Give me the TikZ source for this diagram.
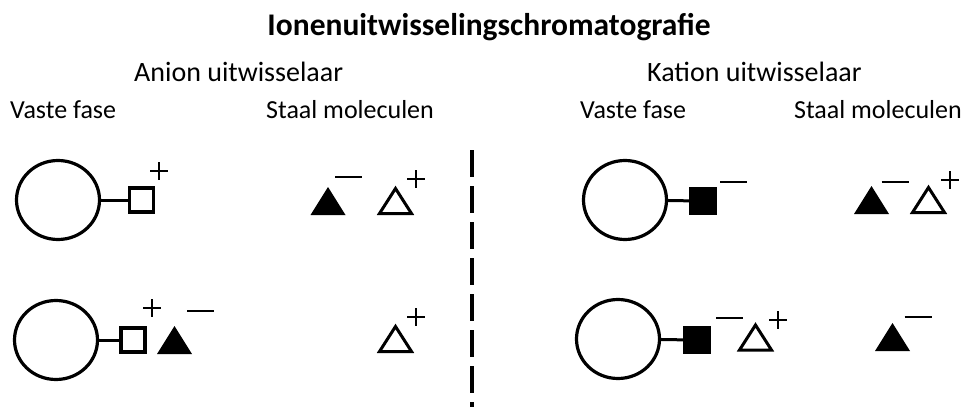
\documentclass[tikz,border=0pt]{standalone}
\usepackage{fontspec}
\setmainfont{Carlito}
\usetikzlibrary{shapes.geometric}

\tikzset{
  ring/.style={draw, ellipse, minimum width=83pt, minimum height=79pt, line width=3.2pt, inner sep=0pt},
  box/.style={draw, minimum width=24pt, minimum height=24pt, line width=3.2pt, inner sep=0pt},
  fbox/.style={box, fill=black},
  link/.style={line width=3pt},
  label/.style={inner sep=0pt, font=\fontsize{26}{30}\selectfont},
  sublabel/.style={inner sep=0pt, font=\fontsize{28}{32}\selectfont},
  heading/.style={inner sep=0pt, font=\fontsize{31.5}{36}\selectfont\bfseries},
  charge/.style={line width=2.8pt},
  plus/.pic={\draw[charge] (-9,0) -- (9,0) (0,-9) -- (0,9);},
  minus/.pic={\draw[charge] (-13.5,0) -- (13.5,0);},
  ftri/.pic={\fill (-17.5,14) -- (17.5,14) -- (0,-14) -- cycle;},
  otri/.pic={\draw[line width=3pt, line join=miter] (-16,12.5) -- (16,12.5) -- (0,-12.5) -- cycle;},
  divider/.style={line width=3.5pt, dash pattern=on 27pt off 9pt}
}

\begin{document}
\begin{tikzpicture}[x=1pt, y=-1pt]
  \useasboundingbox (0,0) rectangle (970,407);

  % headings
  \node[heading, anchor=base] (title) at (489,35) {Ionenuitwisselingschromatografie};
  \node[sublabel, anchor=base west] (anion) at (134,81) {Anion uitwisselaar};
  \node[sublabel, anchor=base west] (kation) at (647,81) {Kation uitwisselaar};
  \node[label, anchor=base west] (vfA) at (10,118) {Vaste fase};
  \node[label, anchor=base west] (smA) at (266,118) {Staal moleculen};
  \node[label, anchor=base west] (vfK) at (580,118) {Vaste fase};
  \node[label, anchor=base east] (smK) at (962,118) {Staal moleculen};

  % separator between the two exchangers
  \coordinate (divtop) at (472,150);
  \coordinate (divbot) at (472,407);
  \draw[divider] (divtop) -- (divbot);

  % anion exchanger, free resin
  \node[ring] (ra1) at (58,200) {};
  \node[box] (sa1) at (141.5,200) {};
  \draw[link] (ra1) -- (sa1);
  \pic at (159,171) {plus};
  \pic at (328,201) {ftri};
  \pic at (348.5,177) {minus};
  \pic at (395.5,201) {otri};
  \pic at (416,179) {plus};

  % anion exchanger, anion bound
  \node[ring] (ra2) at (56,340) {};
  \node[box] (sa2) at (133,340) {};
  \draw[link] (ra2) -- (sa2);
  \pic at (152,308) {plus};
  \pic at (174.5,340) {ftri};
  \pic at (200.5,311) {minus};
  \pic at (395.5,339) {otri};
  \pic at (416,317) {plus};

  % cation exchanger, free resin
  \node[ring] (rk1) at (625,200) {};
  \node[fbox] (sk1) at (703,201) {};
  \draw[link] (rk1) -- (sk1);
  \pic at (733.5,182) {minus};
  \pic at (871.5,200) {ftri};
  \pic at (895,182) {minus};
  \pic at (928.5,200) {otri};
  \pic at (950,180) {plus};

  % cation exchanger, cation bound
  \node[ring] (rk2) at (618,339) {};
  \node[fbox] (sk2) at (697,340) {};
  \draw[link] (rk2) -- (sk2);
  \pic at (729.5,318) {minus};
  \pic at (755.5,337.5) {otri};
  \pic at (778,320) {plus};
  \pic at (892.5,337) {ftri};
  \pic at (918,317) {minus};
\end{tikzpicture}
\end{document}
